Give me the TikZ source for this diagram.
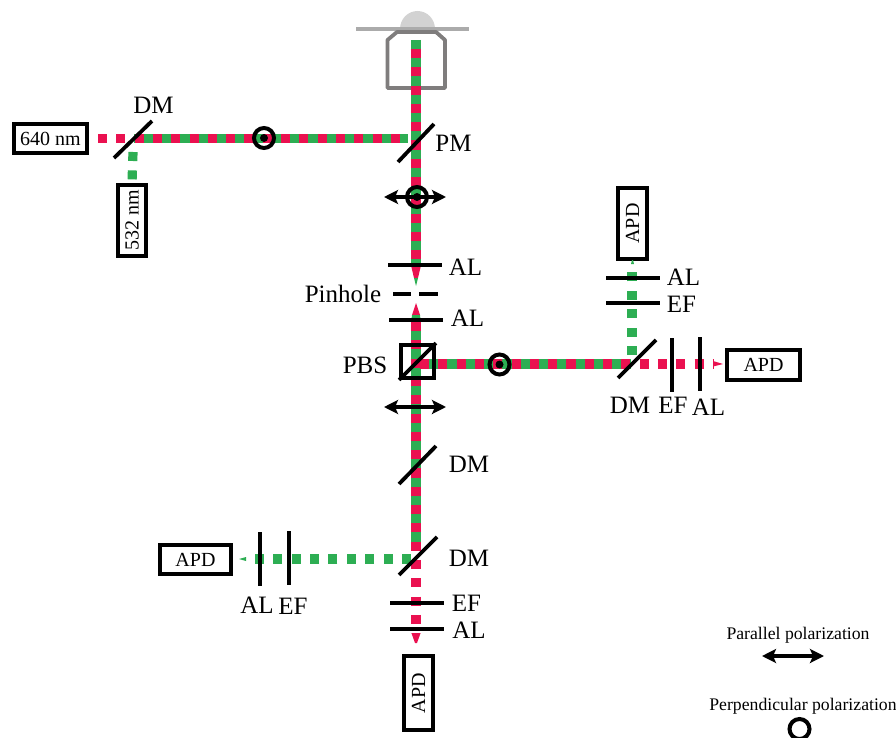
\documentclass[tikz,border=0pt]{standalone}
\usepackage{fontspec}
\setmainfont{Liberation Serif}
\usetikzlibrary{arrows.meta}
\definecolor{beamred}{HTML}{EA1150}
\definecolor{beamgreen}{HTML}{2DAE53}
\definecolor{objgray}{HTML}{7F7D7D}
\definecolor{glassgray}{HTML}{ABABAB}
\definecolor{domegray}{HTML}{D2D2D2}
\tikzset{
  greenbeam/.style={draw=beamgreen,line width=9.2pt},
  greendash/.style={draw=beamgreen,line width=9.2pt,dash pattern=on 9pt off 9.4pt},
  reddash/.style={draw=beamred,line width=9.2pt,dash pattern=on 9.1pt off 9.2pt},
  optic/.style={draw=black,line width=3.8pt},
  box/.style={draw=black,line width=3.8pt,fill=white,inner sep=0pt,font=\fontsize{20}{24}\selectfont},
  lab/.style={inner sep=0pt,font=\fontsize{25}{30}\selectfont},
  leglab/.style={inner sep=0pt,font=\fontsize{17.7}{21}\selectfont},
  parallel/.style={draw=black,line width=3.6pt,{Stealth[length=14pt,width=14pt,inset=3pt]}-{Stealth[length=14pt,width=14pt,inset=3pt]}},
  perp/.style={circle,draw=black,line width=4pt,minimum size=20pt,inner sep=0pt},
}
\begin{document}
\begin{tikzpicture}[x=1pt,y=-1pt]
\clip (0,0) rectangle (896,738);

% sample and objective
\fill [domegray] (400,29) arc [start angle=180,end angle=360,x radius=17.5,y radius=18] -- cycle;
\draw [glassgray,line width=4.5pt] (356,29) -- (469,29);
\draw [objgray,line width=3.8pt,line join=round] (397,32) -- (387.5,40) -- (387.5,88) -- (445,88) -- (445,40) -- (436,32) -- cycle;

% boxes
\node [box,minimum width=73pt,minimum height=29pt] (laserred) at (50.5,138.5) {640 nm};
\node [box,minimum width=71pt,minimum height=28pt,rotate=90] (lasergreen) at (132,220.5) {532 nm};
\node [box,minimum width=71pt,minimum height=29pt,rotate=90] (apdtop) at (632.5,223.5) {APD};
\node [box,minimum width=73pt,minimum height=30pt] (apdright) at (763.5,365) {APD};
\node [box,minimum width=71pt,minimum height=29pt] (apdleft) at (195.5,559.5) {APD};
\node [box,minimum width=74pt,minimum height=29pt,rotate=90] (apdbottom) at (418.5,693) {APD};

% junctions of the beams
\coordinate (objtop) at (416,40);
\coordinate (objred) at (416,49);
\coordinate (ala) at (416,267);
\coordinate (alb) at (416,320);
\coordinate (redlow) at (416,322);
\coordinate (dmlow) at (416,551);
\coordinate (redend) at (416,633);
\coordinate (dmlas) at (134,138.5);
\coordinate (pmin) at (408,138.5);
\coordinate (redstart) at (98,138.5);
\coordinate (pbsout) at (420,364);
\coordinate (dmright) at (631,364);
\coordinate (redout) at (713,364);

% beams
\draw [greenbeam] (objtop) -- (ala);
\draw [reddash] (objred) -- (ala);
\draw [greenbeam] (alb) -- (dmlow);
\draw [reddash] (redlow) -- (redend);
\draw [greenbeam] (dmlas) -- (pmin);
\draw [reddash] (redstart) -- (pmin);
\draw [greendash] (133,152) -- (lasergreen.east);
\draw [greenbeam] (pbsout) -- (dmright);
\draw [reddash] (pbsout) -- (redout);
\draw [greendash] (632,355) -- (632,272);
\draw [greendash] (411,559) -- (255,559);

% focusing cones
\fill [beamred] (411.4,267) -- (420.6,267) -- (418,278) -- (414,278) -- cycle;
\fill [beamgreen] (414,278) -- (418,278) -- (416,286) -- cycle;
\fill [beamred] (416,303) -- (420,315) -- (412,315) -- cycle;
\fill [beamgreen] (412,315) -- (420,315) -- (420.6,320) -- (411.4,320) -- cycle;
\fill [beamred] (411.4,633) -- (420.6,633) -- (417,643) -- (415,643) -- cycle;
\fill [beamred] (713,361) -- (723,364) -- (713,366.5) -- cycle;
\fill [beamgreen] (246,557) -- (239,559) -- (246,561) -- cycle;
\fill [beamgreen] (631,264) -- (632,260) -- (633,260) -- (634,264) -- cycle;

% mirrors
\draw [optic] (114,158) -- (152,121);
\draw [optic] (398,162) -- (434,124);
\draw [optic] (399,484) -- (436,446);
\draw [optic] (399,575) -- (437,537);
\draw [optic] (618,378) -- (656,340);

% lenses, filters, pinhole
\draw [optic] (388,265) -- (442,265);
\draw [optic] (393,294) -- (411,294);
\draw [optic] (419,294) -- (438,294);
\draw [optic] (389,320) -- (443,320);
\draw [optic] (390,603) -- (444,603);
\draw [optic] (390,629) -- (444,629);
\draw [optic] (606,278) -- (660,278);
\draw [optic] (606,303) -- (660,303);
\draw [optic] (672,338) -- (672,392);
\draw [optic] (700,337) -- (700,391);
\draw [optic] (260,532) -- (260,586);
\draw [optic] (289,531) -- (289,585);

% beam splitter
\node [draw=black,line width=3.8pt,minimum size=33pt,inner sep=0pt] (pbs) at (417.5,361.5) {};
\draw [optic] (pbs.south west) -- (pbs.north east);

% polarization
\draw [parallel] (384,197) -- (446,197);
\draw [parallel] (384,407) -- (446,407);
\node [perp] (perpa) at (264,138) {};
\fill (perpa) circle (4);
\node [perp] (perpb) at (417,197) {};
\fill (perpb) circle (4);
\node [perp] (perpc) at (499.5,364.5) {};
\fill (perpc) circle (4);

% labels
\node [lab] (tdma) at (153.5,105) {DM};
\node [lab] (tpm) at (453.5,143) {PM};
\node [lab] (tala) at (465.5,267) {AL};
\node [lab] (tpin) at (343,294) {Pinhole};
\node [lab] (talb) at (467.5,318) {AL};
\node [lab] (tpbs) at (365,365) {PBS};
\node [lab] (tdmb) at (469,464) {DM};
\node [lab] (tdmc) at (469,558) {DM};
\node [lab] (tefa) at (466.5,603) {EF};
\node [lab] (talc) at (469,630) {AL};
\node [lab] (tald) at (257,605) {AL};
\node [lab] (tefb) at (293,606) {EF};
\node [lab] (tale) at (683.5,277) {AL};
\node [lab] (tefc) at (681.5,304) {EF};
\node [lab] (tdmd) at (630,405) {DM};
\node [lab] (tefd) at (673,405) {EF};
\node [lab] (talf) at (708.5,407) {AL};

% legend
\node [leglab] (tpar) at (798,635) {Parallel polarization};
\draw [parallel] (762,656) -- (824,656);
\node [leglab] (tper) at (803,706) {Perpendicular polarization};
\node [perp] (perpd) at (799.5,729) {};
\end{tikzpicture}
\end{document}
